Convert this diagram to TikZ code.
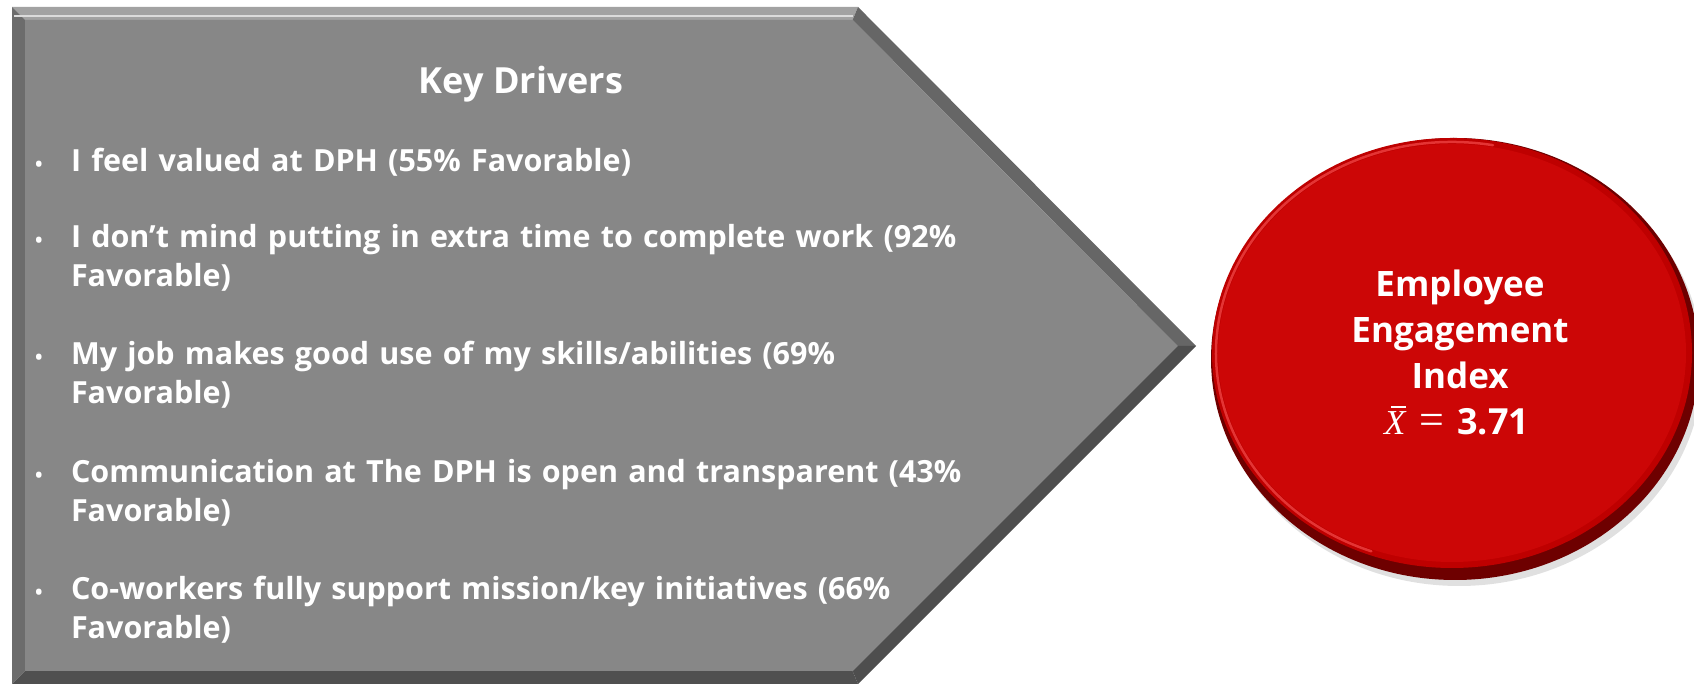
\documentclass[tikz,border=0pt]{standalone}
\usepackage{fontspec}
\setmainfont{Open Sans}
\newfontfamily\serifx{Liberation Serif}
\begin{document}
\begin{tikzpicture}[x=1pt,y=1pt,
  txt/.style={inner sep=0pt, outer sep=0pt, text=white, font=\fontsize{30.5}{39}\selectfont\bfseries},
  bul/.style={inner sep=0pt, text=white, font=\fontsize{20}{24}\selectfont\bfseries},
  item/.style={txt, anchor=base west, text width=1000pt, align=left},
  ctext/.style={inner sep=0pt, text=white, anchor=base, text width=400pt, align=center, font=\fontsize{35}{46}\selectfont\bfseries},
  xline/.style={inner sep=0pt, text=white, anchor=base west, font=\fontsize{36}{46}\selectfont\bfseries}]
\definecolor{bodygray}{HTML}{878787}
\definecolor{bevtop}{HTML}{A2A2A2}
\definecolor{bevleft}{HTML}{6C6C6C}
\definecolor{bevup}{HTML}{666666}
\definecolor{bevlow}{HTML}{4E4E4E}
\definecolor{bevbot}{HTML}{505050}
\definecolor{redface}{HTML}{CC0606}
\definecolor{redrim}{HTML}{6E0000}
\definecolor{redlight}{HTML}{E43434}
\definecolor{redouter}{HTML}{BE0000}
\useasboundingbox (0,0) rectangle (1694,684);
% arrow outer corners
\coordinate (oTL) at (12,677);
\coordinate (oTR) at (858,677);
\coordinate (oTip) at (1196,338);
\coordinate (oBR) at (858,0);
\coordinate (oBL) at (12,0);
\coordinate (iTL) at (25,664);
\coordinate (iTR) at (852.6,664);
\coordinate (iTip) at (1177.6,338);
\coordinate (iBR) at (852.6,13);
\coordinate (iBL) at (25,13);
% bevel faces
\fill[bevtop] (oTL) -- (oTR) -- (iTR) -- (iTL) -- cycle;
\fill[bevup] (oTR) -- (oTip) -- (iTip) -- (iTR) -- cycle;
\fill[bevlow] (oTip) -- (oBR) -- (iBR) -- (iTip) -- cycle;
\fill[bevbot] (oBR) -- (oBL) -- (iBL) -- (iBR) -- cycle;
\fill[bevleft] (oBL) -- (oTL) -- (iTL) -- (iBL) -- cycle;
\fill[bodygray] (iTL) -- (iTR) -- (iTip) -- (iBR) -- (iBL) -- cycle;
\draw[white!70!bodygray, line width=2pt] (14,668) -- (853,668);
% circle
\coordinate (cc) at (1455,325);
\coordinate (fc) at (1452,331);
\fill[black!12] (1459,319) ellipse [x radius=244, y radius=221];
\fill[redrim] (cc) ellipse [x radius=244, y radius=221];
\fill[redouter] (fc) ellipse [x radius=240, y radius=215];
\fill[redface] (fc) ellipse [x radius=234, y radius=209];
\draw[redlight, line width=2.5pt, line cap=round] ([shift={(80:236 and 211)}]fc) arc[start angle=80, end angle=250, x radius=236, y radius=211];
% texts
\node[txt, anchor=base, font=\fontsize{36}{40}\selectfont\bfseries] (title) at (521,590) {Key Drivers};
\node[bul, anchor=base] (b1) at (39,512) {•};
\node[item] (t1) at (71,512) {I feel valued at DPH (55\% Favorable)};
\node[bul, anchor=base] (b2) at (39,436) {•};
\node[item] (t2) at (71,436) {I don’t mind putting in extra time to complete work (92\%\\Favorable)};
\node[bul, anchor=base] (b3) at (39,319) {•};
\node[item] (t3) at (71,319) {My job makes good use of my skills/abilities (69\%\\Favorable)};
\node[bul, anchor=base] (b4) at (39,201) {•};
\node[item] (t4) at (71,201) {Communication at The DPH is open and transparent (43\%\\Favorable)};
\node[bul, anchor=base] (b5) at (39,84) {•};
\node[item] (t5) at (71,84) {Co-workers fully support mission/key initiatives (66\%\\Favorable)};
\node[ctext] (eei) at (1460,387) {Employee\\Engagement\\Index};
\node[xline] (xbar) at (1384,249) {{\serifx\mdseries\itshape\fontsize{35}{46}\selectfont\rlap{\kern7pt\rule[27pt]{15pt}{1.6pt}}X}\hspace{14pt}{\serifx\mdseries\fontsize{44}{46}\selectfont =}\hspace{13pt}3.71};
\end{tikzpicture}
\end{document}
